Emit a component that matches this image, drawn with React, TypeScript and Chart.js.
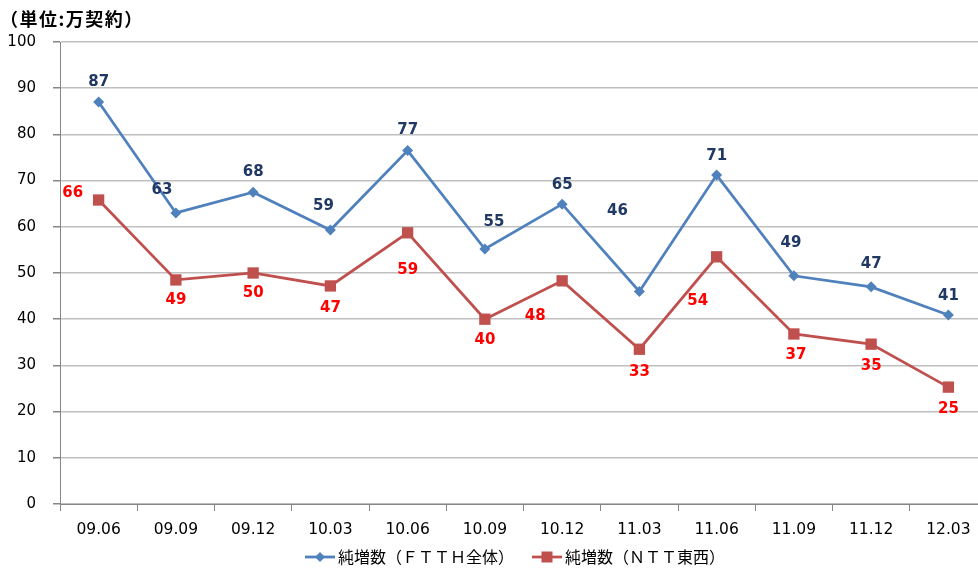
import React, { useEffect, useRef } from "react";
import { Chart, registerables } from "chart.js";

Chart.register(...registerables);

const categories = ["09.06", "09.09", "09.12", "10.03", "10.06", "10.09", "10.12", "11.03", "11.06", "11.09", "11.12", "12.03"];
const ftthValues = [87.0, 63.0, 67.5, 59.3, 76.5, 55.2, 64.9, 46.0, 71.2, 49.4, 47.0, 40.9];
const nttValues = [65.8, 48.5, 50.0, 47.2, 58.7, 40.0, 48.3, 33.5, 53.5, 36.8, 34.6, 25.3];
const ftthLabels = ["87", "63", "68", "59", "77", "55", "65", "46", "71", "49", "47", "41"];
const nttLabels = ["66", "49", "50", "47", "59", "40", "48", "33", "54", "37", "35", "25"];
const yTicks = [0, 10, 20, 30, 40, 50, 60, 70, 80, 90, 100];
const unitTitle = "（単位:万契約）";
const seriesNames = ["純増数（ＦＴＴＨ全体）", "純増数（ＮＴＴ東西）"];

// label offsets (pixels) relative to points
const ftthOffsets = [[0, -20], [-14, -23], [0, -20], [-7, -24], [0, -20], [9, -27], [0, -19], [-22, -80], [0, -19], [-3, -33], [0, -23], [0, -19]];
const nttOffsets = [[-26, -7], [0, 20], [0, 20], [0, 22], [0, 37], [0, 21], [-27, 35], [0, 23], [-19, 44], [2, 21], [0, 22], [0, 22]];

const BLUE = "#4F81BD";
const RED = "#C0504D";
const BLUE_LABEL = "#1F3864";
const RED_LABEL = "#FF0000";

const extrasPlugin = {
  id: "extras",
  afterDatasetsDraw(chart: any) {
    const ctx = chart.ctx;
    ctx.save();
    ctx.font = "bold 15px 'DejaVu Sans'";
    ctx.textAlign = "center";
    ctx.textBaseline = "middle";
    const sets = [
      { labels: ftthLabels, offs: ftthOffsets, color: BLUE_LABEL },
      { labels: nttLabels, offs: nttOffsets, color: RED_LABEL },
    ];
    sets.forEach((s, di) => {
      const meta = chart.getDatasetMeta(di);
      meta.data.forEach((pt: any, i: number) => {
        ctx.fillStyle = s.color;
        ctx.fillText(s.labels[i], pt.x + s.offs[i][0], pt.y + s.offs[i][1]);
      });
    });
    ctx.restore();
  },
  afterDraw(chart: any) {
    const ctx = chart.ctx;
    ctx.save();
    // title
    ctx.font = "bold 18px 'Noto Sans CJK JP'";
    ctx.fillStyle = "#000";
    ctx.textAlign = "left";
    ctx.textBaseline = "middle";
    try { (ctx as any).letterSpacing = "1.5px"; } catch (e) {}
    ctx.fillText(unitTitle, 0, 19);
    try { (ctx as any).letterSpacing = "0px"; } catch (e) {}
    // legend
    ctx.font = "16px 'Noto Sans CJK JP'";
    const lineW = 30;
    const gap = 3;
    let x = 305;
    const y = 557;
    const colors = [BLUE, RED];
    seriesNames.forEach((name, i) => {
      ctx.strokeStyle = colors[i];
      ctx.lineWidth = 2.75;
      ctx.beginPath();
      ctx.moveTo(x, y);
      ctx.lineTo(x + lineW, y);
      ctx.stroke();
      ctx.fillStyle = colors[i];
      const cx = x + lineW / 2;
      ctx.beginPath();
      if (i === 0) {
        ctx.moveTo(cx - 5, y);
        ctx.lineTo(cx, y - 5);
        ctx.lineTo(cx + 5, y);
        ctx.lineTo(cx, y + 5);
        ctx.closePath();
      } else {
        ctx.rect(cx - 5.5, y - 5.5, 11, 11);
      }
      ctx.fill();
      ctx.fillStyle = "#000";
      ctx.fillText(name, x + lineW + gap, y);
      x = 532;
    });
    ctx.restore();
  },
};

export default function App() {
  const ref = useRef<HTMLCanvasElement>(null);
  useEffect(() => {
    document.body.style.margin = "0";
    document.body.style.overflow = "hidden";
    const chart = new Chart(ref.current!, {
      type: "line",
      data: {
        labels: categories,
        datasets: [
          {
            label: seriesNames[0],
            data: ftthValues,
            borderColor: BLUE,
            backgroundColor: BLUE,
            borderWidth: 2.75,
            pointStyle: "rectRot",
            pointRadius: 5.5,
            pointBorderWidth: 0,
            tension: 0,
          },
          {
            label: seriesNames[1],
            data: nttValues,
            borderColor: RED,
            backgroundColor: RED,
            borderWidth: 2.75,
            pointStyle: "rect",
            pointRadius: 8,
            pointBorderWidth: 0,
            tension: 0,
          },
        ],
      },
      options: {
        animation: false,
        responsive: false,
        layout: { padding: { top: 42, right: 0, left: 0, bottom: 0 } },
        plugins: { legend: { display: false }, tooltip: { enabled: false } },
        scales: {
          x: {
            offset: true,
            grid: { offset: true, drawOnChartArea: false, drawTicks: true, tickLength: 7, color: "#868686" },
            border: { color: "#868686", width: 1 },
            ticks: { color: "#000", font: { family: "'DejaVu Sans'", size: 15.5 }, padding: 10, maxRotation: 0 },
            afterFit(scale: any) {
              scale.height = 65;
            },
          },
          y: {
            min: 0,
            max: 100,
            afterBuildTicks(scale: any) {
              scale.ticks = yTicks.map((v) => ({ value: v }));
            },
            grid: { color: "#BFBFBF", lineWidth: 1.5, tickLength: 7, tickColor: "#868686" },
            border: { color: "#868686", width: 1 },
            ticks: { color: "#000", font: { family: "'DejaVu Sans'", size: 15 }, padding: 17 },
            afterFit(scale: any) {
              scale.width = 60;
            },
          },
        },
      },
      plugins: [extrasPlugin],
    });
    return () => chart.destroy();
  }, []);
  return (
    <div style={{ width: 978, height: 569, overflow: "hidden" }}>
      <canvas ref={ref} width={995} height={569} style={{ display: "block" }} />
    </div>
  );
}
